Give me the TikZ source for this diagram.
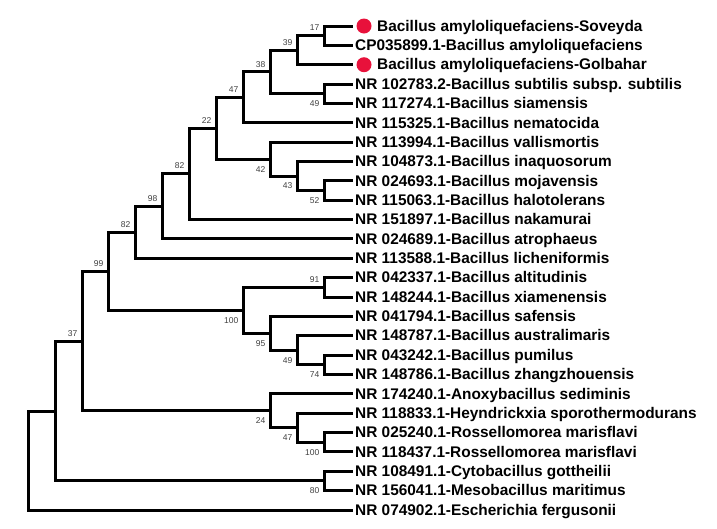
\documentclass[tikz,border=0pt]{standalone}
\usepackage{fontspec}
\setmainfont{Liberation Sans}
\usepackage{tikz}

\definecolor{dotred}{RGB}{232,17,59}
\definecolor{bsgray}{RGB}{64,64,64}

\begin{document}
\begin{tikzpicture}[x = 1pt, y = -19.36pt,
		branch/.style = {line width = 3pt, line join = miter},
		leaf/.style = {draw = none, anchor = base west, inner sep = 2.5pt, yshift = -5.2pt, font = \fontsize{15.4}{16}\selectfont\bfseries},
		dot/.style = {circle, fill = dotred, minimum size = 15pt, inner sep = 0pt, xshift = 11.5pt},
		bs/.style = {draw = none, inner sep = 0pt, text = bsgray, font = \fontsize{8.5}{9}\selectfont},
		bsup/.style = {bs, anchor = south east, xshift = -5pt, yshift = 4.7pt},
		bsdown/.style = {bs, anchor = north east, xshift = -5pt, yshift = -6.8pt}]
		\useasboundingbox (0,-1.343) rectangle (717,25.981);
		% Leaves (tips and names)
		\path (352.5, 0) coordinate (t1) node [dot] (d1) {} node [leaf, xshift = 22pt] (l1) {Bacillus amyloliquefaciens-Soveyda};
		\path (352.5, 1) coordinate (t2) node [leaf] (l2) {CP035899.1-Bacillus amyloliquefaciens};
		\path (352.5, 2) coordinate (t3) node [dot] (d3) {} node [leaf, xshift = 22pt] (l3) {Bacillus amyloliquefaciens-Golbahar};
		\path (352.5, 3) coordinate (t4) node [leaf] (l4) {NR 102783.2-Bacillus subtilis subsp. subtilis};
		\path (352.5, 4) coordinate (t5) node [leaf] (l5) {NR 117274.1-Bacillus siamensis};
		\path (352.5, 5) coordinate (t6) node [leaf] (l6) {NR 115325.1-Bacillus nematocida};
		\path (352.5, 6) coordinate (t7) node [leaf] (l7) {NR 113994.1-Bacillus vallismortis};
		\path (352.5, 7) coordinate (t8) node [leaf] (l8) {NR 104873.1-Bacillus inaquosorum};
		\path (352.5, 8) coordinate (t9) node [leaf] (l9) {NR 024693.1-Bacillus mojavensis};
		\path (352.5, 9) coordinate (t10) node [leaf] (l10) {NR 115063.1-Bacillus halotolerans};
		\path (352.5, 10) coordinate (t11) node [leaf] (l11) {NR 151897.1-Bacillus nakamurai};
		\path (352.5, 11) coordinate (t12) node [leaf] (l12) {NR 024689.1-Bacillus atrophaeus};
		\path (352.5, 12) coordinate (t13) node [leaf] (l13) {NR 113588.1-Bacillus licheniformis};
		\path (352.5, 13) coordinate (t14) node [leaf] (l14) {NR 042337.1-Bacillus altitudinis};
		\path (352.5, 14) coordinate (t15) node [leaf] (l15) {NR 148244.1-Bacillus xiamenensis};
		\path (352.5, 15) coordinate (t16) node [leaf] (l16) {NR 041794.1-Bacillus safensis};
		\path (352.5, 16) coordinate (t17) node [leaf] (l17) {NR 148787.1-Bacillus australimaris};
		\path (352.5, 17) coordinate (t18) node [leaf] (l18) {NR 043242.1-Bacillus pumilus};
		\path (352.5, 18) coordinate (t19) node [leaf] (l19) {NR 148786.1-Bacillus zhangzhouensis};
		\path (352.5, 19) coordinate (t20) node [leaf] (l20) {NR 174240.1-Anoxybacillus sediminis};
		\path (352.5, 20) coordinate (t21) node [leaf] (l21) {NR 118833.1-Heyndrickxia sporothermodurans};
		\path (352.5, 21) coordinate (t22) node [leaf] (l22) {NR 025240.1-Rossellomorea marisflavi};
		\path (352.5, 22) coordinate (t23) node [leaf] (l23) {NR 118437.1-Rossellomorea marisflavi};
		\path (352.5, 23) coordinate (t24) node [leaf] (l24) {NR 108491.1-Cytobacillus gottheilii};
		\path (352.5, 24) coordinate (t25) node [leaf] (l25) {NR 156041.1-Mesobacillus maritimus};
		\path (352.5, 25) coordinate (t26) node [leaf] (l26) {NR 074902.1-Escherichia fergusonii};
		% Inner nodes of the amyloliquefaciens / subtilis group
		\coordinate (n17) at (324.5, 0.5);
		\coordinate (n39) at (297.5, 1.25);
		\coordinate (n49) at (324.5, 3.5);
		\coordinate (n38) at (270.5, 2.375);
		\coordinate (n47) at (243.5, 3.6875);
		\coordinate (n52) at (324.5, 8.5);
		\coordinate (n43) at (297.5, 7.75);
		\coordinate (n42) at (270.5, 6.875);
		\coordinate (n22) at (216.5, 5.28125);
		\coordinate (n82a) at (189.5, 7.640625);
		\coordinate (n98) at (162.5, 9.3203);
		\coordinate (n82b) at (135.5, 10.6602);
		% Inner nodes of the pumilus group
		\coordinate (n91) at (324.5, 13.5);
		\coordinate (n74) at (324.5, 17.5);
		\coordinate (n49b) at (297.5, 16.75);
		\coordinate (n95) at (270.5, 15.875);
		\coordinate (n100a) at (243.5, 14.6875);
		\coordinate (n99) at (108.5, 12.6738);
		% Inner nodes of the other genera
		\coordinate (n100b) at (324.5, 21.5);
		\coordinate (n47b) at (297.5, 20.75);
		\coordinate (n24) at (270.5, 19.875);
		\coordinate (n37) at (82.5, 16.2744);
		\coordinate (n80) at (324.5, 23.5);
		\coordinate (nA) at (55.5, 19.8872);
		\coordinate (root) at (28.5, 22.4436);
		% Branches
		\draw [branch] (t1) -| (n17) |- (t2);
		\draw [branch] (n17) -| (n39) |- (t3);
		\draw [branch] (t4) -| (n49) |- (t5);
		\draw [branch] (n39) -| (n38) |- (n49);
		\draw [branch] (n38) -| (n47) |- (t6);
		\draw [branch] (t9) -| (n52) |- (t10);
		\draw [branch] (t8) -| (n43) |- (n52);
		\draw [branch] (t7) -| (n42) |- (n43);
		\draw [branch] (n47) -| (n22) |- (n42);
		\draw [branch] (n22) -| (n82a) |- (t11);
		\draw [branch] (n82a) -| (n98) |- (t12);
		\draw [branch] (n98) -| (n82b) |- (t13);
		\draw [branch] (t14) -| (n91) |- (t15);
		\draw [branch] (t18) -| (n74) |- (t19);
		\draw [branch] (t17) -| (n49b) |- (n74);
		\draw [branch] (t16) -| (n95) |- (n49b);
		\draw [branch] (n91) -| (n100a) |- (n95);
		\draw [branch] (n82b) -| (n99) |- (n100a);
		\draw [branch] (t22) -| (n100b) |- (t23);
		\draw [branch] (t21) -| (n47b) |- (n100b);
		\draw [branch] (t20) -| (n24) |- (n47b);
		\draw [branch] (n99) -| (n37) |- (n24);
		\draw [branch] (t24) -| (n80) |- (t25);
		\draw [branch] (n37) -| (nA) |- (n80);
		\draw [branch] (nA) -| (root) |- (t26);
		% Bootstrap values
		\node [bsup] (b17) at (n17) {17};
		\node [bsup] (b39) at (n39) {39};
		\node [bsup] (b38) at (n38) {38};
		\node [bsdown] (b49) at (n49) {49};
		\node [bsup] (b47) at (n47) {47};
		\node [bsup] (b22) at (n22) {22};
		\node [bsdown] (b42) at (n42) {42};
		\node [bsdown] (b43) at (n43) {43};
		\node [bsdown] (b52) at (n52) {52};
		\node [bsup] (b82a) at (n82a) {82};
		\node [bsup] (b98) at (n98) {98};
		\node [bsup] (b82b) at (n82b) {82};
		\node [bsup] (b99) at (n99) {99};
		\node [bsup] (b91) at (n91) {91};
		\node [bsdown] (b100a) at (n100a) {100};
		\node [bsdown] (b95) at (n95) {95};
		\node [bsdown] (b49b) at (n49b) {49};
		\node [bsdown] (b74) at (n74) {74};
		\node [bsdown] (b24) at (n24) {24};
		\node [bsdown] (b47b) at (n47b) {47};
		\node [bsdown] (b100b) at (n100b) {100};
		\node [bsup] (b37) at (n37) {37};
		\node [bsdown] (b80) at (n80) {80};
\end{tikzpicture}
\end{document}
